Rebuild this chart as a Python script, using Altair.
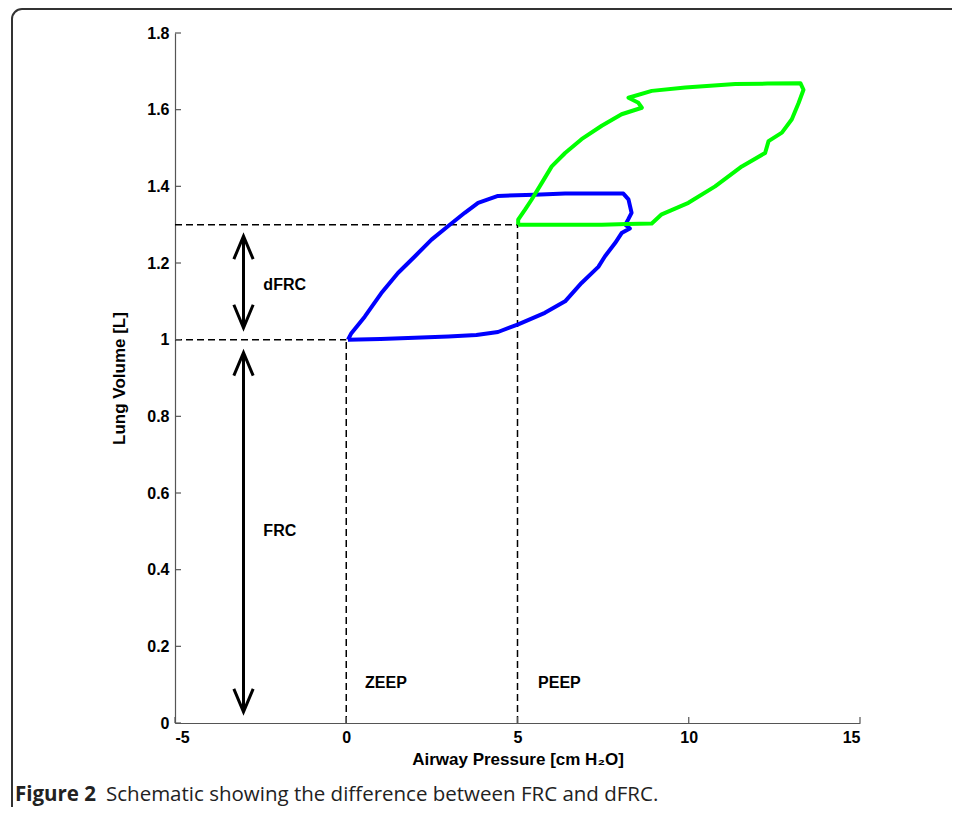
import altair as alt
import pandas as pd

# ---- data ----
blue_p = [0.05, 1.0, 2.0, 2.98, 3.8, 4.43, 5.02, 5.8, 6.39, 6.87, 7.36, 7.55, 7.85, 8.04, 8.28, 8.15, 8.24, 8.33, 8.24, 8.09,
          7.2, 6.39, 5.5, 4.43, 3.85, 3.46, 2.97, 2.49, 2.0, 1.51, 1.02, 0.54, 0.15, 0.05]
blue_v = [1.0, 1.002, 1.005, 1.008, 1.012, 1.02, 1.04, 1.07, 1.10, 1.148, 1.19, 1.217, 1.252, 1.278, 1.29, 1.30, 1.315, 1.331, 1.366, 1.381,
          1.381, 1.381, 1.378, 1.375, 1.357, 1.331, 1.296, 1.261, 1.217, 1.174, 1.121, 1.06, 1.017, 1.0]

green_p = [5.02, 6.5, 7.46, 8.2, 8.92, 9.21, 9.99, 10.77, 11.55, 12.23, 12.33, 12.72, 13.01, 13.21, 13.35, 13.26,
           12.3, 11.36, 9.90, 8.92, 8.24, 8.53, 8.63, 8.04, 7.46, 6.87, 6.39, 6.0, 5.71, 5.41, 5.22, 5.02, 5.02]
green_v = [1.30, 1.30, 1.30, 1.302, 1.303, 1.327, 1.357, 1.40, 1.452, 1.487, 1.518, 1.54, 1.575, 1.618, 1.652, 1.669,
           1.668, 1.667, 1.658, 1.649, 1.631, 1.618, 1.605, 1.588, 1.558, 1.523, 1.487, 1.452, 1.409, 1.365, 1.339, 1.313, 1.30]

dash_x1 = [-5, -5, 0, 5]
dash_x2 = [0, 5, 0, 5]
dash_y1 = [1.0, 1.3, 0, 0]
dash_y2 = [1.0, 1.3, 1.0, 1.3]

arrow_x = [-3, -3]
arrow_top = [1.27, 0.966]
arrow_bottom = [1.031, 0.029]

label_text = ["dFRC", "FRC", "ZEEP", "PEEP"]
label_x = [-2.42, -2.42, 0.55, 5.6]
label_y = [1.143, 0.501, 0.104, 0.104]

x_ticks = [-5, 0, 5, 10, 15]
y_ticks = [0, 0.2, 0.4, 0.6, 0.8, 1.0, 1.2, 1.4, 1.6, 1.8]

caption_bold = "Figure 2"
caption_rest = "Schematic showing the difference between FRC and dFRC."

W, H = 685, 690
FONT = "Liberation Sans"

loops = pd.concat([
    pd.DataFrame({"p": blue_p, "v": blue_v, "i": range(len(blue_p)), "loop": "ZEEP"}),
    pd.DataFrame({"p": green_p, "v": green_v, "i": range(len(green_p)), "loop": "PEEP"}),
])
dashes = pd.DataFrame({"x1": dash_x1, "x2": dash_x2, "y1": dash_y1, "y2": dash_y2})
arrows = pd.DataFrame({"x": arrow_x, "top": arrow_top, "bottom": arrow_bottom})
labels = pd.DataFrame({"t": label_text, "x": label_x, "y": label_y})
xt = pd.DataFrame({"x": x_ticks})
yt = pd.DataFrame({"y": y_ticks})

xs = alt.Scale(domain=[-5, 15], nice=False, zero=False)
ys = alt.Scale(domain=[0, 1.8], nice=False, zero=False)

xax = alt.Axis(values=x_ticks, ticks=False, grid=False, labelExpr="'' + datum.value",
               labelFont=FONT, labelFontWeight="bold", labelFontSize=16, labelColor="black",
               labelPadding=6, domainColor="#555", domainWidth=1.2,
               title="Airway Pressure [cm H\u2082O]", titleFont=FONT, titleFontWeight="bold",
               titleFontSize=17, titleColor="black", titlePadding=6)
yax = alt.Axis(values=y_ticks, ticks=False, grid=False, labelExpr="'' + datum.value",
               labelFont=FONT, labelFontWeight="bold", labelFontSize=16, labelColor="black",
               labelPadding=6, domainColor="#555", domainWidth=1.2,
               title="Lung Volume [L]", titleFont=FONT, titleFontWeight="bold",
               titleFontSize=17, titleColor="black", titlePadding=18)

base_loops = alt.Chart(loops).mark_line(strokeWidth=4, strokeJoin="round").encode(
    x=alt.X("p:Q", scale=xs, axis=xax),
    y=alt.Y("v:Q", scale=ys, axis=yax),
    color=alt.Color("loop:N", scale=alt.Scale(domain=["ZEEP", "PEEP"], range=["#0000FF", "#00FF00"]), legend=None),
    order="i:Q",
    detail="loop:N",
)

dash_layer = alt.Chart(dashes).mark_rule(color="black", strokeWidth=1.5, strokeDash=[7, 4]).encode(
    x=alt.X("x1:Q", scale=xs), x2="x2:Q", y=alt.Y("y1:Q", scale=ys), y2="y2:Q")

shaft = alt.Chart(arrows).mark_rule(color="black", strokeWidth=3).encode(
    x=alt.X("x:Q", scale=xs), y=alt.Y("top:Q", scale=ys), y2="bottom:Q")
head_up = alt.Chart(arrows).mark_point(shape="M -0.42 1 L 0 0 L 0.42 1", filled=False, color="black",
                                      strokeWidth=3, size=2116, opacity=1).encode(
    x=alt.X("x:Q", scale=xs), y=alt.Y("top:Q", scale=ys))
head_down = alt.Chart(arrows).mark_point(shape="M -0.42 -1 L 0 0 L 0.42 -1", filled=False, color="black",
                                        strokeWidth=3, size=2116, opacity=1).encode(
    x=alt.X("x:Q", scale=xs), y=alt.Y("bottom:Q", scale=ys))

text_layer = alt.Chart(labels).mark_text(font=FONT, fontWeight="bold", fontSize=16, align="left",
                                         baseline="middle", color="black").encode(
    x=alt.X("x:Q", scale=xs), y=alt.Y("y:Q", scale=ys), text="t:N")

xtick_layer = alt.Chart(xt).mark_rule(color="#555", strokeWidth=1.2).encode(
    x=alt.X("x:Q", scale=xs), y=alt.value(H), y2=alt.value(H - 6))
ytick_layer = alt.Chart(yt).mark_rule(color="#555", strokeWidth=1.2).encode(
    y=alt.Y("y:Q", scale=ys), x=alt.value(0), x2=alt.value(6))

frame = alt.Chart(pd.DataFrame({"a": [0]})).mark_rect(
    filled=False, stroke="#333", strokeWidth=2, cornerRadius=10).encode(
    x=alt.value(-163), x2=alt.value(900), y=alt.value(-24), y2=alt.value(900))

cap1 = alt.Chart(pd.DataFrame({"t": [caption_bold]})).mark_text(
    font="Open Sans", fontWeight="bold", fontSize=20.5, align="left", baseline="alphabetic", color="#222").encode(
    x=alt.value(-160), y=alt.value(768), text="t:N")
cap2 = alt.Chart(pd.DataFrame({"t": [caption_rest]})).mark_text(
    font="Open Sans", fontSize=20.5, align="left", baseline="alphabetic", color="#222").encode(
    x=alt.value(-69), y=alt.value(768), text="t:N")

chart = alt.layer(
    frame, dash_layer, base_loops, shaft, head_up, head_down, text_layer,
    xtick_layer, ytick_layer, cap1, cap2,
).properties(
    width=W, height=H,
    autosize=alt.AutoSizeParams(type="none"),
    padding={"left": 167, "top": 25, "right": 92, "bottom": 84},
    background="white",
).configure_view(stroke=None)

chart.save("out.html", embed_options={"renderer": "svg", "actions": False})
